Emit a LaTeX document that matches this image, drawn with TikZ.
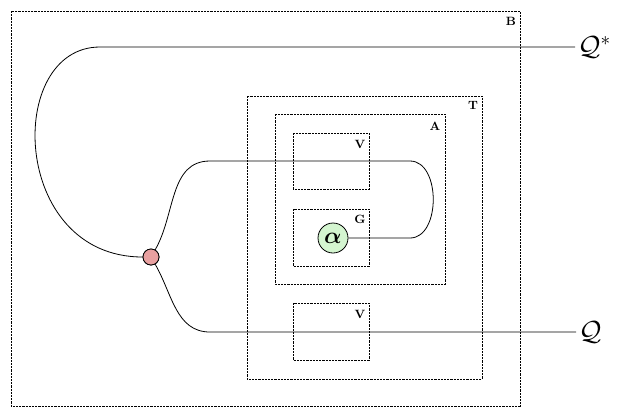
\documentclass[tikz,border=0pt]{standalone}
\usepackage{amsmath,amssymb,bm}
\definecolor{genfill}{RGB}{212,245,208}
\definecolor{junctionfill}{RGB}{232,160,160}
\begin{document}
\begin{tikzpicture}[x=0.75pt,y=-0.75pt,
  frame/.style={draw,line width=0.45pt,dash pattern=on 1.6pt off 0.8pt},
  tag/.style={font=\small\bfseries,inner sep=0pt},
  wire/.style={line width=0.6pt},
  gen/.style={circle,draw,line width=0.6pt,fill=genfill,minimum size=22.5pt,inner sep=0pt,font=\LARGE},
  junction/.style={circle,draw,line width=0.6pt,fill=junctionfill,minimum size=12pt,inner sep=0pt},
  endlabel/.style={anchor=west,font=\huge,inner sep=2pt}]
\useasboundingbox (0,0) rectangle (624,408);
% nested boxes
\draw[frame] (11,11) rectangle (520,406);
\node[tag] (lb) at (511,21) {B};
\draw[frame] (247,96) rectangle (482,379);
\node[tag] (lt) at (473,105) {T};
\draw[frame] (275,114) rectangle (445,284);
\node[tag] (la) at (435,126) {A};
\draw[frame] (293,133) rectangle (369,189);
\node[tag] (lv1) at (360,144) {V};
\draw[frame] (293,209) rectangle (369,266);
\node[tag] (lg) at (360,219) {G};
\draw[frame] (293,303) rectangle (369,360);
\node[tag] (lv2) at (360,314) {V};
% nodes
\node[gen] (al) at (333,238) {$\bm{\alpha}$};
\node[junction] (j) at (151,257) {};
\node[endlabel] (qs) at (575,47) {$\mathcal{Q}^{*}$};
\node[endlabel] (q) at (576,332) {$\mathcal{Q}$};
\coordinate (t1) at (100,47);
\coordinate (u1) at (210,161);
\coordinate (u2) at (410,161);
\coordinate (u3) at (410,238);
\coordinate (b1) at (210,332);
% wires
\draw[wire] (qs.west) -- (t1) .. controls (5,47) and (10,257) .. (j.west);
\draw[wire] (j) to[out=60,in=180] (u1) -- (u2)
  .. controls (441,161) and (441,238) .. (u3) -- (al.east);
\draw[wire] (j) to[out=-60,in=180] (b1) -- (q.west);
\node[junction] at (j) {};
\end{tikzpicture}
\end{document}
